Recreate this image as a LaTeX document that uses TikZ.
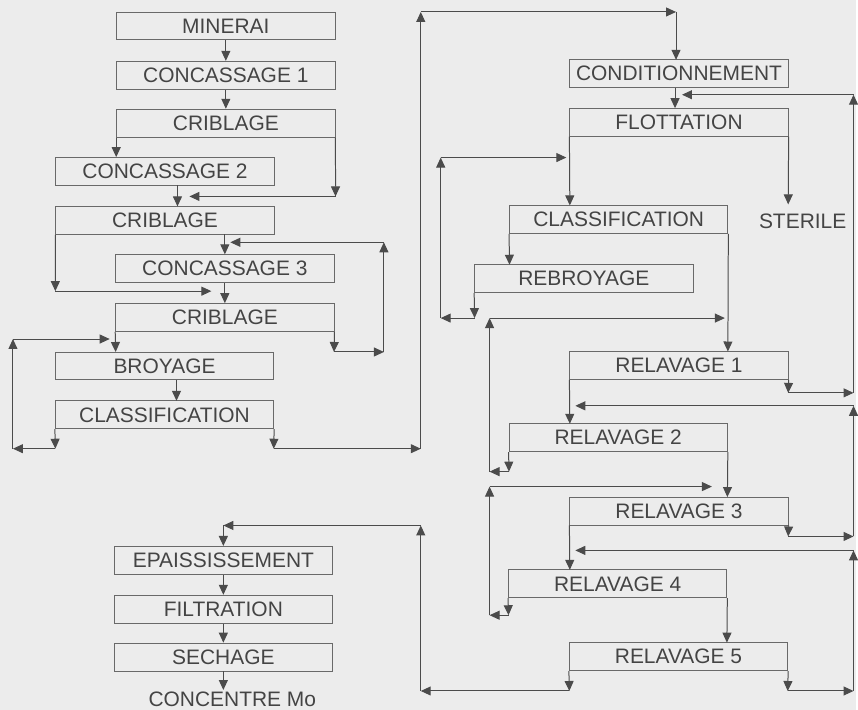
\documentclass[tikz,border=0pt]{standalone}
\usepackage{fontspec}
\setmainfont{Liberation Sans}
\usetikzlibrary{arrows.meta}
\definecolor{fond}{RGB}{236,236,236}
\definecolor{trait}{RGB}{75,75,75}
\definecolor{cadre}{RGB}{105,105,105}
\definecolor{texte}{RGB}{68,68,68}
\begin{document}
\begin{tikzpicture}[x=1pt, y=-1pt,
				box/.style={draw=cadre, line width=0.9pt, minimum width=219pt, minimum height=28pt, inner sep=0pt, text=texte, font=\fontsize{21}{24}\selectfont},
				lbl/.style={inner sep=0pt, text=texte, font=\fontsize{21}{24}\selectfont},
				arr/.style={draw=trait, line width=1pt, -{Triangle[length=10pt, width=9pt]}}
				]
			\fill[fond] (0,0) rectangle (858,712);
			\node [box] (minerai) at (226.5,26) {MINERAI};
			\node [box] (conc1) at (226.5,75.5) {CONCASSAGE 1};
			\node [box] (crib1) at (226.5,123.5) {CRIBLAGE};
			\node [box] (conc2) at (165.5,172) {CONCASSAGE 2};
			\node [box] (crib2) at (165.5,221) {CRIBLAGE};
			\node [box] (conc3) at (225.5,269.5) {CONCASSAGE 3};
			\node [box] (crib3) at (225.5,318.5) {CRIBLAGE};
			\node [box] (broy) at (165,367) {BROYAGE};
			\node [box] (class1) at (165,416) {CLASSIFICATION};
			\node [box] (cond) at (681,74) {CONDITIONNEMENT};
			\node [box] (flot) at (681,122.5) {FLOTTATION};
			\node [lbl] (sterile) at (805,222) {STERILE};
			\node [box] (class2) at (620.5,220) {CLASSIFICATION};
			\node [box] (rebroy) at (585.5,279.5) {REBROYAGE};
			\node [box] (relav1) at (681,366.5) {RELAVAGE 1};
			\node [box] (relav2) at (620,439) {RELAVAGE 2};
			\node [box] (relav3) at (681,512.5) {RELAVAGE 3};
			\node [box] (relav4) at (619.5,585.5) {RELAVAGE 4};
			\node [box] (relav5) at (680.5,658.5) {RELAVAGE 5};
			\node [box] (epais) at (224,562) {EPAISSISSEMENT};
			\node [box] (filt) at (224,611) {FILTRATION};
			\node [box] (sech) at (224,659) {SECHAGE};
			\node [lbl] (mo) at (233,701) {CONCENTRE Mo};
			\coordinate (k1) at (336.5,197);
			\coordinate (e1) at (190,197);
			\coordinate (c2a) at (178,186);
			\coordinate (c2b) at (178,207);
			\coordinate (k2) at (55.5,292);
			\coordinate (e2) at (212,292);
			\coordinate (c3) at (225.5,235);
			\coordinate (k3a) at (335,353);
			\coordinate (k3b) at (385,353);
			\coordinate (k3c) at (385,243);
			\coordinate (e3) at (231,243);
			\coordinate (c4) at (116,353);
			\coordinate (c5a) at (177,381);
			\coordinate (c5b) at (177,402);
			\coordinate (k4a) at (55.5,450);
			\coordinate (k4b) at (13,450);
			\coordinate (k4c) at (13,340);
			\coordinate (e4) at (110,340);
			\coordinate (k5a) at (274.5,450);
			\coordinate (k5b) at (422,450);
			\coordinate (k5c) at (422,12);
			\coordinate (k5d) at (678,12);
			\coordinate (k5e) at (678,60);
			\coordinate (c6a) at (677,88);
			\coordinate (c6b) at (677,108.5);
			\coordinate (k6a) at (790.5,394);
			\coordinate (k6b) at (856,394);
			\coordinate (k6c) at (856,95);
			\coordinate (e6) at (684,95);
			\coordinate (c7) at (571.5,206);
			\coordinate (c8) at (790.5,205);
			\coordinate (c9) at (511,265.5);
			\coordinate (c10) at (730,352.5);
			\coordinate (k7a) at (476,319);
			\coordinate (k7b) at (442,319);
			\coordinate (k7c) at (442,158);
			\coordinate (e7) at (568,158);
			\coordinate (c11) at (571.5,425);
			\coordinate (k8a) at (510.5,473);
			\coordinate (k8b) at (491,473);
			\coordinate (k8c) at (491,319);
			\coordinate (e8) at (727,319);
			\coordinate (c12) at (729.5,498.5);
			\coordinate (k9a) at (790.5,538);
			\coordinate (k9b) at (856,538);
			\coordinate (k9c) at (856,407);
			\coordinate (e9) at (577,407);
			\coordinate (c13) at (571.5,571.5);
			\coordinate (k10a) at (510,617);
			\coordinate (k10b) at (491,617);
			\coordinate (k10c) at (491,488);
			\coordinate (e10) at (714,488);
			\coordinate (c14) at (729,644.5);
			\coordinate (k11a) at (790,693);
			\coordinate (k11b) at (856,693);
			\coordinate (k11c) at (856,552);
			\coordinate (e11) at (577,552);
			\coordinate (k12a) at (571,693);
			\coordinate (k12b) at (422,693);
			\coordinate (k12c) at (422,527);
			\coordinate (k12d) at (224,527);
			\coordinate (c15) at (224,692);
			\foreach \a/\b in {minerai.south/conc1.north, conc1.south/crib1.north, crib1.south west/conc2.north -| crib1.south west,
					crib1.south east/k1, k1/e1, c2a/c2b, crib2.south west/k2, k2/e2, c3/conc3.north, conc3.south/crib3.north,
					crib3.south east/k3a, k3a/k3b, k3b/k3c, k3c/e3, crib3.south west/c4, c5a/c5b,
					class1.south west/k4a, k4a/k4b, k4b/k4c, k4c/e4,
					class1.south east/k5a, k5a/k5b, k5b/k5c, k5c/k5d, k5d/k5e}
				\draw [arr] (\a) -- (\b);
			\foreach \a/\b in {c6a/c6b, relav1.south east/k6a, k6a/k6b, k6b/k6c, k6c/e6,
					flot.south west/c7, flot.south east/c8, class2.south west/c9, class2.south east/c10,
					rebroy.south west/k7a, k7a/k7b, k7b/k7c, k7c/e7, relav1.south west/c11,
					relav2.south west/k8a, k8a/k8b, k8b/k8c, k8c/e8, relav2.south east/c12,
					relav3.south east/k9a, k9a/k9b, k9b/k9c, k9c/e9, relav3.south west/c13,
					relav4.south west/k10a, k10a/k10b, k10b/k10c, k10c/e10, relav4.south east/c14,
					relav5.south east/k11a, k11a/k11b, k11b/k11c, k11c/e11,
					relav5.south west/k12a, k12a/k12b, k12b/k12c, k12c/k12d, k12d/epais.north,
					epais.south/filt.north, filt.south/sech.north, sech.south/c15}
				\draw [arr] (\a) -- (\b);
\end{tikzpicture}
\end{document}
